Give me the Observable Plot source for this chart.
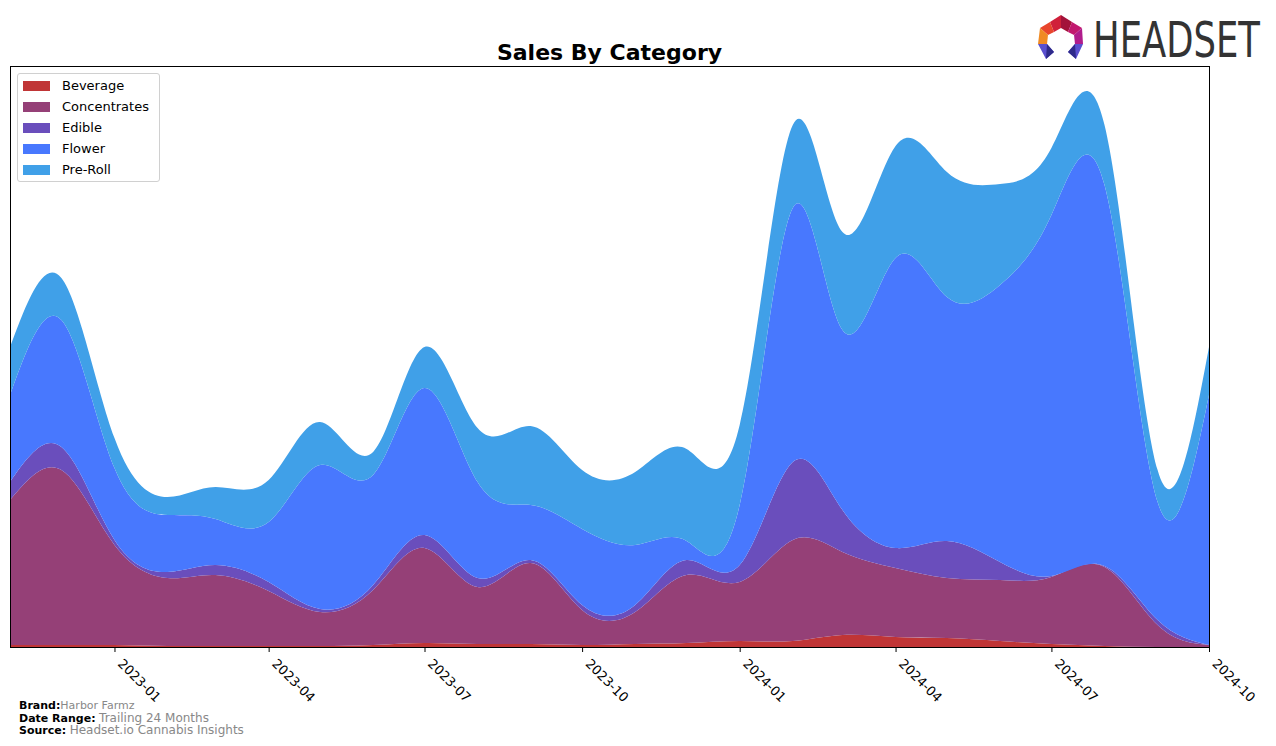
<!DOCTYPE html>
<html>
<head>
<meta charset="utf-8">
<script src="https://cdn.jsdelivr.net/npm/d3@7"></script>
<script src="https://cdn.jsdelivr.net/npm/@observablehq/plot@0.6"></script>
<style>
  html, body { margin: 0; padding: 0; background: #fff; }
  #wrap { position: relative; width: 1276px; height: 746px; overflow: hidden; font-family: "DejaVu Sans", sans-serif; }
  #chart { position: absolute; left: 0; top: 0; }
  .abs { position: absolute; white-space: nowrap; }
  #title { left: 0; width: 1219px; top: 40px; text-align: center; font-weight: bold; font-size: 22px; line-height: 26px; color: #000; }
  #legend { left: 17px; top: 73px; width: 141px; height: 107px; border: 1px solid #d0d0d0; border-radius: 3px; background: rgba(255,255,255,0.85); }
  .lg-row { position: absolute; left: 5px; height: 14px; font-size: 13px; line-height: 14px; color: #000; }
  .lg-sw { position: absolute; left: 0; top: 2px; width: 27px; height: 10px; }
  .lg-tx { position: absolute; left: 39px; top: 0; }
  .ft { left: 19px; font-size: 11px; line-height: 12px; height: 12px; color: #000; }
  .ft b { font-weight: bold; }
  .ft span { color: #888; }
</style>
</head>
<body>
<div id="wrap">
  <div id="chart"></div>
  <div id="title" class="abs">Sales By Category</div>
  <div id="legend" class="abs"></div>
  <div class="abs ft" style="top:700px;"><b>Brand:</b><span style="font-size:11px;">Harbor Farmz</span></div>
  <div class="abs ft" style="top:712px;"><b>Date Range:</b> <span style="font-size:12px;">Trailing 24 Months</span></div>
  <div class="abs ft" style="top:724px;"><b>Source:</b> <span style="font-size:12px;">Headset.io Cannabis Insights</span></div>
  <svg class="abs" style="left:1030px;top:8px;" width="246" height="60">
    <g>
      <polygon points="20,14 31,7 31,20 24,24" fill="#d0203a"/>
      <polygon points="31,7 42,14 38,24 31,20" fill="#a3123a"/>
      <polygon points="42,14 52,20 44,27 38,24" fill="#c2186e"/>
      <polygon points="52,20 53,36 45,36 44,27" fill="#b01c8c"/>
      <polygon points="20,14 10,20 18,27 24,24" fill="#e8452c"/>
      <polygon points="10,20 8,36 17,36 18,27" fill="#f08a24"/>
      <polygon points="8,36 17,36 24,44 16,51" fill="#5a4fcf"/>
      <polygon points="16,51 24,44 17,36" fill="#2e2a8a"/>
      <polygon points="53,36 45,36 38,44 46,51" fill="#5a4fcf"/>
      <polygon points="46,51 38,44 45,36" fill="#2e2a8a"/>
    </g>
    <text id="logotext" x="0" y="0" transform="translate(63,49)" font-family="DejaVu Sans Condensed, DejaVu Sans" font-size="50" fill="#333">HEADSET</text>
  </svg>
</div>
<script>
// ---- data (arbitrary units) ----
const months = ["2022-11","2022-12","2023-01","2023-02","2023-03","2023-04","2023-05","2023-06",
  "2023-07","2023-08","2023-09","2023-10","2023-11","2023-12","2024-01","2024-02","2024-03",
  "2024-04","2024-05","2024-06","2024-07","2024-08","2024-09","2024-10"];
const categories = ["Beverage","Concentrates","Edible","Flower","Pre-Roll"];
const colors = ["#c03536","#954077","#6a4ebc","#4878fe","#40a0e8"];
const beverage     = [2,2,2,1,1,1,1,2,4,3,3,2,3,4,6,6,12,10,9,6,3,1,0,0];
const concentrates = [145,175,100,68,71,55,34,55,95,57,81,35,32,68,59,101,83,69,60,61,67,79,22,2];
const edible       = [18,23,5,6,10,9,3,5,13,9,3,5,7,15,17,78,42,20,37,18,1,1,5,0];
const flower       = [87,127,72,57,46,60,144,110,147,96,55,76,60,19,60,254,180,290,244,277,361,381,118,250];
const preRoll      = [48,42,30,18,32,42,43,23,41,54,79,59,73,92,80,83,98,112,125,101,67,60,32,48];
const tickMonths = ["2023-01","2023-04","2023-07","2023-10","2024-01","2024-04","2024-07","2024-10"];

const series = [beverage, concentrates, edible, flower, preRoll];
const parse = d3.utcParse("%Y-%m");
const rows = [];
months.forEach((m, i) => {
  categories.forEach((c, k) => rows.push({date: parse(m), category: c, value: series[k][i]}));
});

const chart = Plot.plot({
  width: 1276,
  height: 746,
  marginLeft: 10,
  marginRight: 67,
  marginTop: 66,
  marginBottom: 99,
  style: {fontFamily: "DejaVu Sans, sans-serif", background: "transparent"},
  x: {type: "utc", domain: [parse(months[0]), parse(months[months.length - 1])]},
  y: {domain: [0, 581], axis: null},
  color: {domain: categories, range: colors},
  marks: [
    Plot.areaY(rows, {x: "date", y: "value", z: "category", fill: "category", curve: "natural", order: categories}),
    Plot.frame({stroke: "#000", strokeWidth: 1}),
    Plot.axisX({
      ticks: tickMonths.map(parse),
      tickFormat: () => "",
      tickSize: 5,
      stroke: "#000",
      label: null
    }),
    Plot.axisX({
      ticks: tickMonths.map(parse),
      tickFormat: d3.utcFormat("%Y-%m"),
      tickSize: 0,
      tickPadding: 11,
      tickRotate: 45,
      fontSize: 13,
      fill: "#000",
      dx: 5,
      dy: 3,
      label: null
    })
  ]
});
document.getElementById("chart").appendChild(chart);

// legend
const lg = document.getElementById("legend");
categories.forEach((c, i) => {
  const row = document.createElement("div");
  row.className = "lg-row";
  row.style.top = (5 + i * 21) + "px";
  row.innerHTML = `<div class="lg-sw" style="background:${colors[i]}"></div><div class="lg-tx">${c}</div>`;
  lg.appendChild(row);
});

// fit logo word to its width in the reference
const lt = document.getElementById("logotext");
const w = lt.getComputedTextLength();
lt.setAttribute("transform", `translate(63,49) scale(${167 / w},1)`);
</script>
</body>
</html>
